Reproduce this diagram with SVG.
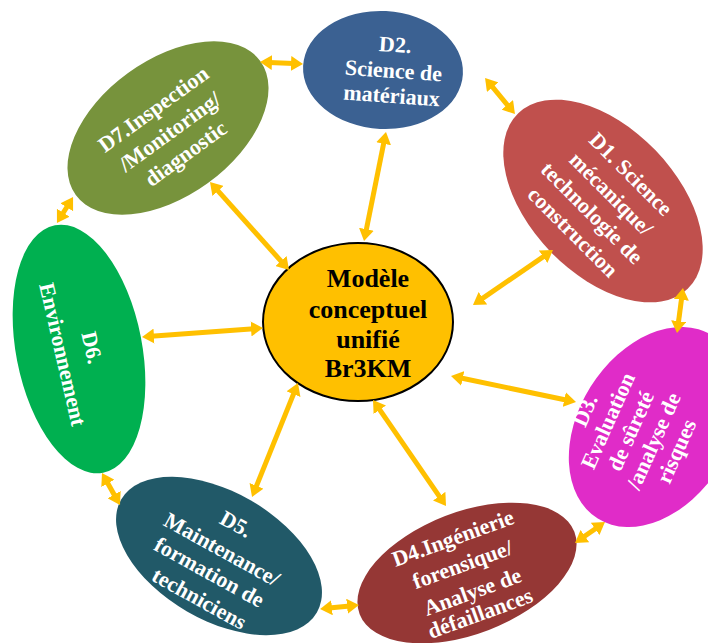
<svg xmlns="http://www.w3.org/2000/svg" width="708" height="643" viewBox="0 0 708 643">
<style>
.lbl{font-family:"Liberation Serif","Times New Roman",serif;font-weight:bold;font-size:22px;fill:#FFFFFF;text-anchor:middle}
.ctr{font-family:"Liberation Serif","Times New Roman",serif;font-weight:bold;font-size:26px;fill:#000000;text-anchor:middle}
.con line{stroke:#FFC000;stroke-width:5;marker-start:url(#ah);marker-end:url(#ah)}
</style>
<defs>
<marker id="ah" viewBox="0 0 12 15" refX="3" refY="7.5" markerWidth="12" markerHeight="15" markerUnits="userSpaceOnUse" orient="auto-start-reverse">
<path d="M0,0 L12,7.5 L0,15 z" fill="#FFC000"/>
</marker>
</defs>
<rect width="708" height="643" fill="#FFFFFF"/>

<g id="center">
<ellipse cx="358" cy="322" rx="95" ry="79" fill="#FFC000" stroke="#000000" stroke-width="2"/>
<text class="ctr" x="368" y="287">Modèle</text>
<text class="ctr" x="368" y="318">conceptuel</text>
<text class="ctr" x="368" y="348">unifié</text>
<text class="ctr" x="368" y="377">Br3KM</text>
</g>

<g id="d2">
<ellipse cx="383" cy="70" rx="80" ry="59" transform="rotate(3 383 70)" fill="#3B6192"/>
<g transform="translate(393,77) rotate(4)">
<text class="lbl" x="0" y="-25">D2.</text>
<text class="lbl" x="0" y="1">Science de</text>
<text class="lbl" x="0" y="26">matériaux</text>
</g>
</g>

<g id="d7">
<ellipse cx="0" cy="0" rx="114" ry="68" transform="translate(168,128) rotate(-36)" fill="#77933C"/>
<g transform="translate(170,132) rotate(-36)">
<text class="lbl" x="0" y="-21">D7.Inspection</text>
<text class="lbl" x="0" y="7">/Monitoring/</text>
<text class="lbl" x="0" y="34">diagnostic</text>
</g>
</g>

<g id="d1">
<ellipse cx="0" cy="0" rx="122" ry="73" transform="translate(603,201) rotate(46)" fill="#C0504D"/>
<g transform="translate(601,204) rotate(45)">
<text class="lbl" x="0" y="-35">D1. Science</text>
<text class="lbl" x="0" y="-7">mécanique/</text>
<text class="lbl" x="0" y="20">technologie de</text>
<text class="lbl" x="0" y="47">construction</text>
</g>
</g>

<g id="d3">
<ellipse cx="0" cy="0" rx="108" ry="76" transform="translate(655,427) rotate(-58)" fill="#E02CC8"/>
<g transform="translate(631,431) rotate(-66)">
<text class="lbl" x="0" y="-43">D3.</text>
<text class="lbl" x="0" y="-18">Evaluation</text>
<text class="lbl" x="0" y="7">de sûreté</text>
<text class="lbl" x="0" y="32">/analyse de</text>
<text class="lbl" x="0" y="57">risques</text>
</g>
</g>

<g id="d4">
<ellipse cx="0" cy="0" rx="115" ry="61" transform="translate(467,573) rotate(-21)" fill="#953735"/>
<g transform="translate(467,577) rotate(-20)">
<text class="lbl" x="0" y="-34">D4.Ingénierie</text>
<text class="lbl" x="0" y="-6">forensique/</text>
<text class="lbl" x="0" y="23">Analyse de</text>
<text class="lbl" x="0" y="46">défaillances</text>
</g>
</g>

<g id="d5">
<ellipse cx="0" cy="0" rx="113" ry="64" transform="translate(219,556) rotate(30)" fill="#215968"/>
<g transform="translate(215,562) rotate(29)">
<text class="lbl" x="0" y="-36">D5.</text>
<text class="lbl" x="0" y="-7">Maintenance/</text>
<text class="lbl" x="0" y="19">formation de</text>
<text class="lbl" x="4" y="47">techniciens</text>
</g>
</g>

<g id="d6">
<ellipse cx="0" cy="0" rx="126" ry="63" transform="translate(79,349) rotate(79)" fill="#00B050"/>
<g transform="translate(77,351) rotate(77)">
<text class="lbl" x="0" y="-8">D6.</text>
<text class="lbl" x="0" y="22">Environnement</text>
</g>
</g>

<g id="connectors" class="con">
<line x1="269" y1="62.4" x2="294" y2="63.6"/>
<line x1="490.8" y1="84.9" x2="509.2" y2="107.1"/>
<line x1="681.8" y1="296.9" x2="678.2" y2="324.1"/>
<line x1="582.4" y1="537.8" x2="597.6" y2="527.2"/>
<line x1="329" y1="608.1" x2="350" y2="605.9"/>
<line x1="106.4" y1="480.8" x2="115.6" y2="497.2"/>
<line x1="61.7" y1="215.3" x2="68.3" y2="204.7"/>
<line x1="365.8" y1="232.2" x2="384.2" y2="140.8"/>
<line x1="480.4" y1="299.9" x2="545.6" y2="255.1"/>
<line x1="459.8" y1="377.8" x2="567.2" y2="400.2"/>
<line x1="378.1" y1="407.4" x2="440.9" y2="498.6"/>
<line x1="294.6" y1="391.4" x2="255.4" y2="488.6"/>
<line x1="254" y1="328.7" x2="151" y2="336.3"/>
<line x1="283" y1="263.3" x2="216" y2="188.7"/>
</g>
</svg>
